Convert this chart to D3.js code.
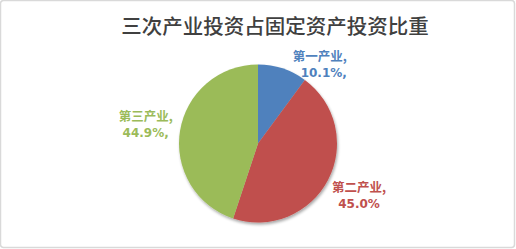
<!DOCTYPE html>
<html>
<head>
<meta charset="utf-8">
<script src="https://cdn.jsdelivr.net/npm/d3@7"></script>
<style>
  html, body { margin: 0; padding: 0; background: #fff; }
  svg { display: block; }
</style>
</head>
<body>
<svg id="chart" width="516" height="249"></svg>
<script>
// Share of fixed-asset investment by industry sector
const title = "三次产业投资占固定资产投资比重";
const categories = ["第一产业", "第二产业", "第三产业"];
const values = [10.1, 45.0, 44.9];
const valueLabels = ["10.1%,", "45.0%", "44.9%,"];
const colors = ["#4F81BD", "#C0504D", "#9BBB59"];

const width = 516, height = 249;
const cx = 258, cy = 143.5, radius = 79;

const svg = d3.select("#chart");

// chart border
svg.append("rect")
  .attr("x", 0.5).attr("y", 0.5)
  .attr("width", width - 2).attr("height", height - 2)
  .attr("rx", 3)
  .attr("fill", "#fff")
  .attr("stroke", "#d9d9d9")
  .attr("stroke-width", 1.5);

// soft shadow under the pie
const defs = svg.append("defs");
const f = defs.append("filter").attr("id", "shadow")
  .attr("x", "-20%").attr("y", "-20%").attr("width", "140%").attr("height", "140%");
f.append("feGaussianBlur").attr("in", "SourceAlpha").attr("stdDeviation", 1.6).attr("result", "b");
f.append("feOffset").attr("in", "b").attr("dx", 1).attr("dy", 1.5).attr("result", "o");
f.append("feComponentTransfer").attr("in", "o").attr("result", "s")
  .append("feFuncA").attr("type", "linear").attr("slope", 0.35);
const m = f.append("feMerge");
m.append("feMergeNode").attr("in", "s");
m.append("feMergeNode").attr("in", "SourceGraphic");

svg.append("text")
  .attr("x", 275).attr("y", 25)
  .attr("text-anchor", "middle")
  .attr("dominant-baseline", "central")
  .attr("font-family", "'Noto Sans CJK SC', sans-serif")
  .attr("font-size", 20.5)
  .attr("font-weight", 500)
  .attr("fill", "#404040")
  .text(title);

const data = categories.map((c, i) => ({ name: c, value: values[i], label: valueLabels[i], color: colors[i] }));

const pie = d3.pie().sort(null).value(d => d.value);
const arcs = pie(data);
const arc = d3.arc().innerRadius(0).outerRadius(radius);

const g = svg.append("g").attr("transform", `translate(${cx},${cy})`);

g.append("g").attr("filter", "url(#shadow)")
  .selectAll("path")
  .data(arcs)
  .enter().append("path")
  .attr("d", arc)
  .attr("fill", d => d.data.color);

// label placement: large slices sit on an outer ring, the small one hugs the rim
const outerArc = d3.arc().innerRadius(radius * 1.44).outerRadius(radius * 1.44);
const rimArc = d3.arc().innerRadius(radius).outerRadius(radius);

function labelPos(d) {
  if (d.data.value < 15) {
    const p = rimArc.centroid(d);
    return { x: p[0] + 10, y: p[1] - 4, anchor: "start" };
  }
  const p = outerArc.centroid(d);
  return { x: p[0], y: p[1] - 1, anchor: "middle" };
}

const labels = g.selectAll("g.lbl")
  .data(arcs)
  .enter().append("g")
  .attr("class", "lbl")
  .attr("transform", d => { const p = labelPos(d); return `translate(${p.x},${p.y})`; });

labels.append("text")
  .attr("text-anchor", d => labelPos(d).anchor)
  .attr("font-family", "'Noto Sans CJK SC', sans-serif")
  .attr("font-size", 12.5)
  .attr("font-weight", "bold")
  .attr("fill", d => d.data.color)
  .each(function(d) {
    const t = d3.select(this);
    const anchor = labelPos(d).anchor;
    t.append("tspan").attr("x", 0).attr("dy", -3).text(d.data.name + ",");
    t.append("tspan")
      .attr("x", anchor === "start" ? 8 : 0)
      .attr("dy", 16)
      .attr("font-family", "'DejaVu Sans', sans-serif")
      .attr("font-size", 12)
      .text(d.data.label);
  });
</script>
</body>
</html>
